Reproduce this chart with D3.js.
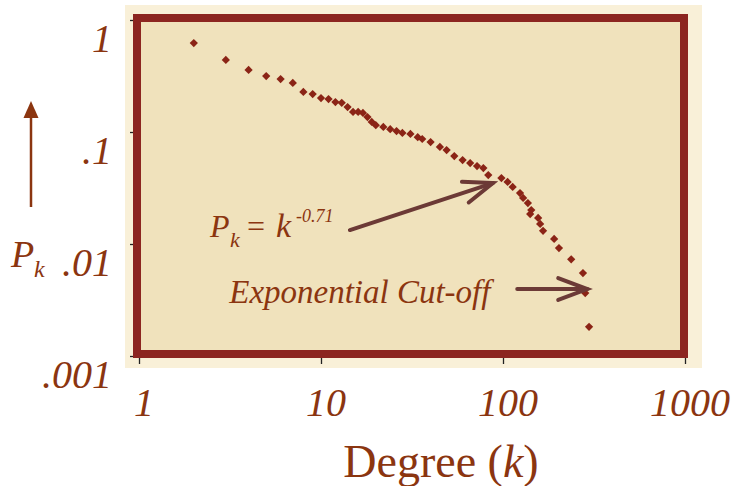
<!DOCTYPE html>
<html>
<head>
<meta charset="utf-8">
<script src="https://cdn.jsdelivr.net/npm/d3@7"></script>
</head>
<body style="margin:0">
<svg id="chart" width="731" height="486"></svg>
<script>
// Degree distribution P(k) against degree k, both on log scales
const degree = [2,3,4,5,6,7,8,9,10,11,12,13,14,15,16,17,18,19,20,22,24,26,28,31,34,36,40,45,49,54,60,66,72,78,83,98,106,113,124,129,137,143,141,156,160,166,191,203,237,275,283,297];
const prob = [0.623,0.440,0.358,0.316,0.297,0.274,0.228,0.218,0.201,0.197,0.185,0.182,0.167,0.151,0.151,0.148,0.136,0.123,0.115,0.111,0.106,0.102,0.098,0.096,0.090,0.0866,0.0814,0.0735,0.069,0.061,0.0562,0.0528,0.0497,0.0477,0.0413,0.0388,0.0358,0.0323,0.0285,0.0258,0.0232,0.0201,0.0185,0.0171,0.0151,0.0131,0.0111,0.0092,0.0073,0.0055,0.00365,0.00182];

const xTicks = [1, 10, 100, 1000];
const xTickLabels = ["1", "10", "100", "1000"];
const yTicks = [1, 0.1, 0.01, 0.001];
const yTickLabels = ["1", ".1", ".01", ".001"];

// annotation anchors in data units
const powerLawAnchor = [88, 0.035];
const cutoffAnchor = [283, 0.00365];

const textColor = "#8b3510";
const frameColor = "#8c2520";
const markColor = "#8b2416";
const arrowColor = "#6c3a36";

const svg = d3.select("#chart");
const x = d3.scaleLog().domain([1, 1000]).range([139, 685]);
const y = d3.scaleLog().domain([0.001, 1]).range([356, 20]);

// parchment panel
svg.append("rect").attr("x", 125).attr("y", 5).attr("width", 577).attr("height", 363)
  .attr("fill", "#f9f0d8");
svg.append("rect").attr("x", 137).attr("y", 18).attr("width", 547).attr("height", 336)
  .attr("fill", "#f0e2bc");

// axes: ticks only, labels set separately
const yAxis = d3.axisLeft(y).tickValues(yTicks).tickSize(4).tickFormat("");
const xAxis = d3.axisBottom(x).tickValues(xTicks).tickSize(6).tickFormat("");
const gy = svg.append("g").attr("transform", "translate(134,0)").call(yAxis);
const gx = svg.append("g").attr("transform", "translate(0,358)").call(xAxis);
[gy, gx].forEach(g => {
  g.attr("font-family", null).attr("font-size", null).attr("text-anchor", null);
  g.select(".domain").remove();
  g.selectAll(".tick text").remove();
  g.selectAll(".tick line").attr("stroke", "#222").attr("stroke-width", 1.3);
});

// plot frame
svg.append("rect").attr("x", 137).attr("y", 18).attr("width", 547).attr("height", 336)
  .attr("fill", "none").attr("stroke", frameColor).attr("stroke-width", 8);

// data markers
svg.append("g").selectAll("path").data(degree.map((k, i) => [k, prob[i]]))
  .join("path")
  .attr("d", d3.symbol(d3.symbolSquare, 34))
  .attr("transform", d => `translate(${x(d[0])},${y(d[1])}) rotate(45)`)
  .attr("fill", markColor);

// y title arrow
svg.append("line").attr("x1", 31).attr("y1", 207).attr("x2", 31).attr("y2", 114)
  .attr("stroke", textColor).attr("stroke-width", 2.5);
svg.append("path").attr("d", "M31,101 L23.5,118 L38.5,118 Z").attr("fill", textColor);

// open-headed annotation arrow from (x1,y1) to (x2,y2)
function arrow(x1, y1, x2, y2) {
  const a = Math.atan2(y1 - y2, x1 - x2), len = 31, spread = 0.36;
  const g = svg.append("g").attr("stroke", arrowColor).attr("stroke-width", 4)
    .attr("stroke-linecap", "round").attr("fill", "none");
  g.append("line").attr("x1", x1).attr("y1", y1).attr("x2", x2).attr("y2", y2);
  g.append("path").attr("d",
    `M${x2 + len * Math.cos(a + spread)},${y2 + len * Math.sin(a + spread)} L${x2},${y2} L${x2 + len * Math.cos(a - spread)},${y2 + len * Math.sin(a - spread)}`);
}

const px = x(powerLawAnchor[0]), py = y(powerLawAnchor[1]);
arrow(px - 143, py + 47, px, py);
const cx = x(cutoffAnchor[0]) + 2, cy = y(cutoffAnchor[1]) - 4;
arrow(cx - 70, cy, cx, cy);

// all text items: [content, x, y, size, italic, anchor]
const textItems = [
  ...yTicks.map((v, i) => [yTickLabels[i], 112, y(v) + 32, 40, true, "end"]),
  ...xTicks.map((v, i) => [xTickLabels[i], x(v) + 5, 416, 40, true, "middle"]),
  ["P", 11, 267, 38, true, "start"],
  ["k", 34, 277, 24, true, "start"],
  ["P", px - 283, py + 54, 32, true, "start"],
  ["k", px - 263, py + 64, 22, true, "start"],
  ["=", px - 246, py + 54, 32, false, "start"],
  ["k", px - 217, py + 54, 34, true, "start"],
  ["-0.71", px - 197, py + 39, 18, true, "start"],
  ["Exponential Cut-off", cx - 358, cy + 14, 33, true, "start"]
];

const textLayer = svg.append("g").attr("fill", textColor);
textLayer.selectAll("text").data(textItems).join("text")
  .attr("x", d => d[1]).attr("y", d => d[2])
  .attr("font-size", d => d[3])
  .attr("font-family", d => "'Liberation Serif'")
  .attr("font-style", d => d[4] ? "italic" : "normal")
  .attr("text-anchor", d => d[5])
  .text(d => d[0]);

// x title: upright "Degree (", italic k
const xt = textLayer.append("text").attr("x", 441).attr("y", 477).attr("text-anchor", "middle")
  .attr("font-family", "'Liberation Serif'").attr("font-size", 46);
xt.append("tspan").text("Degree (");
xt.append("tspan").attr("font-style", "italic").text("k");
xt.append("tspan").text(")");
</script>
</body>
</html>
